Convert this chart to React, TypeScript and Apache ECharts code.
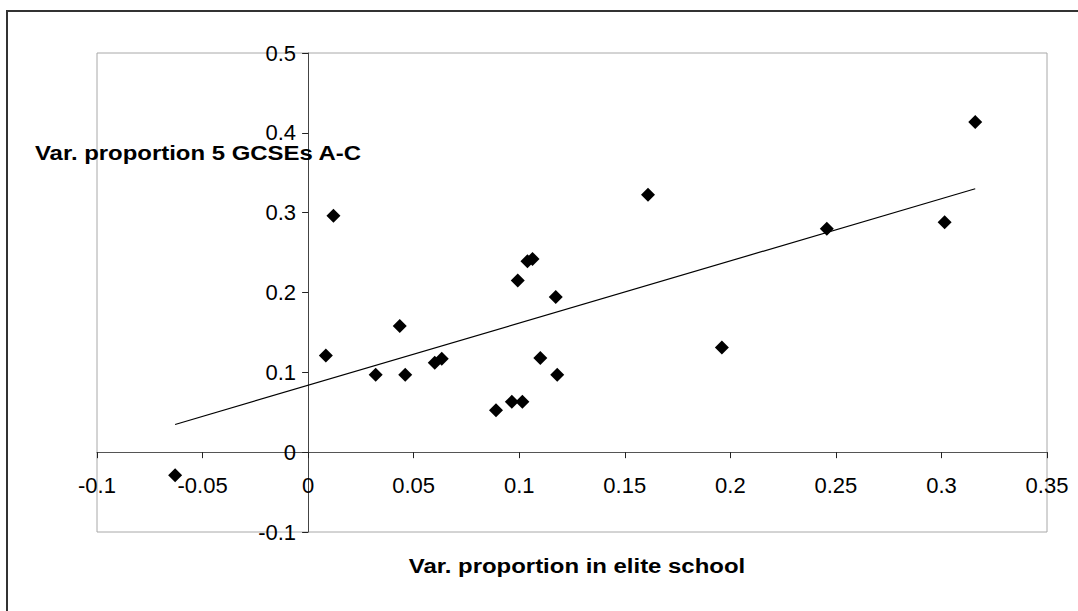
import React, { useEffect, useRef } from "react";
import * as echarts from "echarts";

const eliteVar: number[] = [
  -0.063, 0.0084, 0.012, 0.032, 0.0434, 0.046, 0.06, 0.0633, 0.089, 0.0965, 0.0993,
  0.1015, 0.1039, 0.1063, 0.11, 0.1173, 0.118, 0.161, 0.196, 0.2457, 0.3015, 0.316,
];
const gcseVar: number[] = [
  -0.0288, 0.121, 0.296, 0.097, 0.158, 0.097, 0.112, 0.117, 0.0526, 0.063, 0.215,
  0.063, 0.239, 0.242, 0.118, 0.1945, 0.097, 0.3225, 0.131, 0.28, 0.288, 0.4135,
];
const trendX: number[] = [-0.063, 0.316];
const trendY: number[] = [0.0347, 0.33];

const xTitle = "Var. proportion in elite school";
const yTitle = "Var. proportion 5 GCSEs A-C";

const FONT = "'Liberation Sans', Arial, Helvetica, sans-serif";

const X_MIN = -0.1;
const X_MAX = 0.35;
const Y_MIN = -0.1;
const Y_MAX = 0.5;

export default function App() {
  const ref = useRef<HTMLDivElement>(null);
  useEffect(() => {
    if (!ref.current) return;
    const chart = echarts.init(ref.current, undefined, { renderer: "svg" });
    const points = eliteVar.map((x, i) => [x, gcseVar[i]]);
    const trend = trendX.map((x, i) => [x, trendY[i]]);
    const gridW = 950;
    const gridH = 479;
    // move axes so they cross at zero (labels follow the axis line)
    const xAxisOffset = -((0 - Y_MIN) / (Y_MAX - Y_MIN)) * gridH;
    const yAxisOffset = -((0 - X_MIN) / (X_MAX - X_MIN)) * gridW;
    chart.setOption({
      animation: false,
      backgroundColor: "#ffffff",
      grid: {
        left: 97,
        top: 53,
        width: gridW,
        height: gridH,
        show: true,
        borderColor: "#a8a8a8",
        borderWidth: 1,
        backgroundColor: "transparent",
      },
      xAxis: {
        type: "value",
        min: X_MIN,
        max: X_MAX,
        interval: 0.05,
        offset: xAxisOffset,
        splitLine: { show: false },
        axisLine: { show: true, onZero: false, lineStyle: { color: "#555555", width: 1 } },
        axisTick: { show: true, inside: false, length: 6, lineStyle: { color: "#222222" } },
        axisLabel: {
          color: "#000000",
          fontSize: 22,
          fontFamily: FONT,
          margin: 22,
        },
      },
      yAxis: {
        type: "value",
        min: Y_MIN,
        max: Y_MAX,
        interval: 0.1,
        offset: yAxisOffset,
        splitLine: { show: false },
        axisLine: { show: true, onZero: false, lineStyle: { color: "#444444", width: 1 } },
        axisTick: { show: true, inside: false, length: 6, lineStyle: { color: "#222222" } },
        axisLabel: {
          color: "#000000",
          fontSize: 22,
          fontFamily: FONT,
          margin: 12,
        },
      },
      series: [
        {
          type: "line",
          data: trend,
          symbol: "none",
          lineStyle: { color: "#000000", width: 1.2 },
          z: 2,
          silent: true,
        },
        {
          type: "scatter",
          data: points,
          symbol: "diamond",
          symbolSize: 14,
          itemStyle: { color: "#000000", opacity: 1 },
          z: 3,
        },
      ],
      graphic: [
        {
          type: "rect",
          x: 7,
          y: 11,
          shape: { width: 1100, height: 700 },
          style: { fill: "none", stroke: "#333333", lineWidth: 2 },
          silent: true,
          z: 10,
        },
        {
          type: "text",
          x: 198,
          y: 153,
          scaleX: 1.14,
          style: {
            text: yTitle,
            font: `bold 21px ${FONT}`,
            fill: "#000000",
            textAlign: "center",
            textVerticalAlign: "middle",
          },
          z: 20,
        },
        {
          type: "text",
          x: 577,
          y: 566,
          scaleX: 1.14,
          style: {
            text: xTitle,
            font: `bold 21px ${FONT}`,
            fill: "#000000",
            textAlign: "center",
            textVerticalAlign: "middle",
          },
          z: 20,
        },
      ],
    });
    return () => chart.dispose();
  }, []);
  return (
    <div
      ref={ref}
      style={{ position: "fixed", left: 0, top: 0, width: 1078, height: 611 }}
    />
  );
}
